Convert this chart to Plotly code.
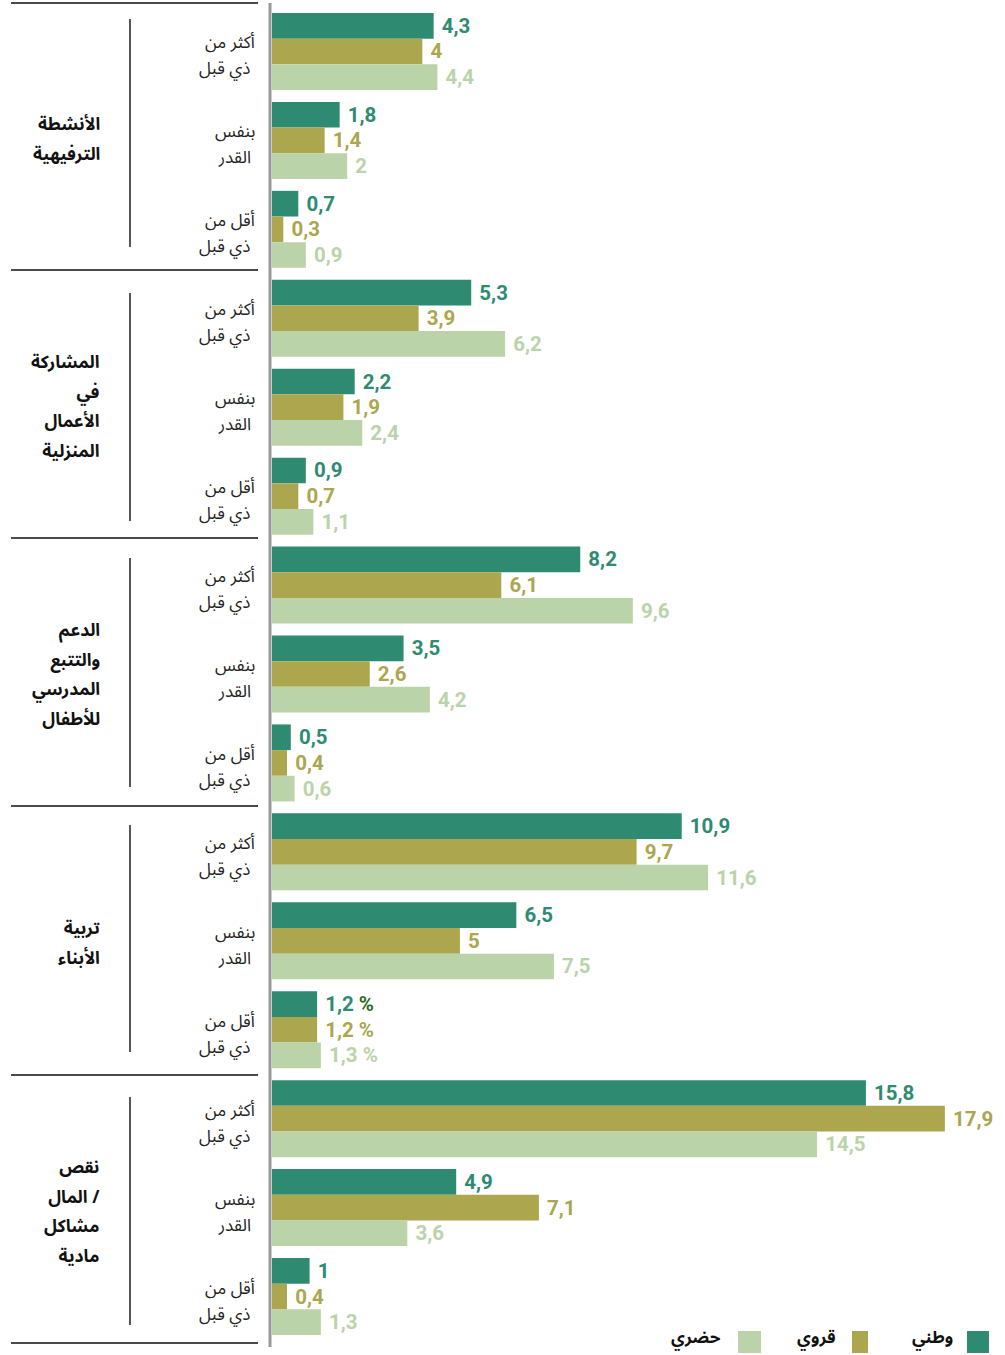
import plotly.graph_objects as go

# ---------------- data ----------------
groups = [
    ["الأنشطة", "الترفيهية"],
    ["المشاركة", "في", "الأعمال", "المنزلية"],
    ["الدعم", "والتتبع", "المدرسي", "للأطفال"],
    ["تربية", "الأبناء"],
    ["نقص", "المال /", "مشاكل", "مادية"],
]
subcats = [
    ["أكثر من", "ذي قبل"],
    ["بنفس", "القدر"],
    ["أقل من", "ذي قبل"],
]
series_names = ["وطني", "قروي", "حضري"]
national = [4.3, 1.8, 0.7, 5.3, 2.2, 0.9, 8.2, 3.5, 0.5, 10.9, 6.5, 1.2, 15.8, 4.9, 1.0]
rural = [4.0, 1.4, 0.3, 3.9, 1.9, 0.7, 6.1, 2.6, 0.4, 9.7, 5.0, 1.2, 17.9, 7.1, 0.4]
urban = [4.4, 2.0, 0.9, 6.2, 2.4, 1.1, 9.6, 4.2, 0.6, 11.6, 7.5, 1.3, 14.5, 3.6, 1.3]
percent_rows = [11]  # row whose labels carry a "%" sign

# ---------------- styling ----------------
colors = ["#2E8B71", "#ACA64F", "#BBD3A9"]
pct_colors = ["#2F6A1E", "#ACA64F", "#BBD3A9"]
W, H = 1005, 1355
ML, MR, MT, MB = 272, 0, 7, 14
PW, PH = W - ML - MR, H - MT - MB
AR_FONT = "Noto Sans Arabic, Noto Naskh Arabic, DejaVu Sans, sans-serif"

rows = [f"{' '.join(g)} | {' '.join(s)}" for g in groups for s in subcats]


def fmt(v):
    return ("%g" % v).replace(".", ",")


def labels(vals, k):
    out = []
    for i, v in enumerate(vals):
        t = "\u00a0" + fmt(v)
        if i in percent_rows:
            t += f" <span style='color:{pct_colors[k]}'>%</span>"
        out.append(t)
    return out


def px_x(p):
    return (p - ML) / PW


def px_y(p):
    return 1 - (p - MT) / PH


def multiline(lines, size, bold=False):
    parts = []
    for ln in lines:
        t = f"<b>{ln}</b>" if bold else ln
        parts.append(f"<span style='font-size:{size}px'>{t}</span>")
    return "<br>".join(parts)


fig = go.Figure()
for k, (name, vals) in enumerate(zip(series_names, [national, rural, urban])):
    fig.add_trace(go.Bar(
        y=rows, x=vals, orientation="h", name=name,
        marker=dict(color=colors[k], line=dict(width=0)),
        text=labels(vals, k), textposition="outside", cliponaxis=False,
        constraintext="none",
        textfont=dict(family="Roboto", size=20.5, color=colors[k], weight="bold"),
        showlegend=False, hoverinfo="skip",
    ))

shapes = []
annotations = []

# y axis line
shapes.append(dict(type="line", xref="paper", yref="paper",
                   x0=px_x(270), x1=px_x(270), y0=px_y(3), y1=px_y(1347),
                   line=dict(color="#999999", width=3)))

# horizontal separators
for p in [3, 270, 538, 806, 1075, 1343]:
    shapes.append(dict(type="line", xref="paper", yref="paper",
                       x0=px_x(11), x1=px_x(258), y0=px_y(p), y1=px_y(p),
                       line=dict(color="#4a4a4a", width=2)))

# vertical brackets per group
for a, b in [(19, 247), (293, 521), (558, 787), (825, 1052), (1097, 1325)]:
    shapes.append(dict(type="line", xref="paper", yref="paper",
                       x0=px_x(130), x1=px_x(130), y0=px_y(a), y1=px_y(b),
                       line=dict(color="#555555", width=2)))

# row labels (base font size sets the line spacing: 1.3 em)
period = PH / len(rows)
for i in range(len(rows)):
    c = MT + (i + 0.5) * period
    l1, l2 = subcats[i % 3]
    annotations.append(dict(xref="paper", yref="paper", x=px_x(257), y=px_y(c + 5),
                            xanchor="right", yanchor="middle", showarrow=False, align="right",
                            text=multiline([l1, l2 + "\u00a0"], 17),
                            font=dict(family=AR_FONT, size=20, color="#222222")))

# group labels
seps = [3, 270, 538, 806, 1075, 1343]
for g, lines in enumerate(groups):
    gc = (seps[g] + seps[g + 1]) / 2 + 3
    annotations.append(dict(xref="paper", yref="paper", x=px_x(102), y=px_y(gc),
                            xanchor="right", yanchor="middle", showarrow=False, align="right",
                            text=multiline(lines, 17.5, bold=True),
                            font=dict(family=AR_FONT, size=22.7, color="#111111")))

# manual RTL legend
legend_items = [(series_names[0], colors[0], 967, 989, 955),
                (series_names[1], colors[1], 852, 868, 838),
                (series_names[2], colors[2], 738, 761, 723)]
for name, col, x0, x1, tx in legend_items:
    shapes.append(dict(type="rect", xref="paper", yref="paper",
                       x0=px_x(x0), x1=px_x(x1), y0=px_y(1331), y1=px_y(1353),
                       fillcolor=col, line=dict(width=0)))
    annotations.append(dict(xref="paper", yref="paper", x=px_x(tx), y=px_y(1338),
                            xanchor="right", yanchor="middle", showarrow=False,
                            text=f"<b>{name}</b>",
                            font=dict(family=AR_FONT, size=17, color="#111111")))

fig.update_layout(
    width=W, height=H,
    margin=dict(l=ML, r=MR, t=MT, b=MB, pad=0),
    paper_bgcolor="white", plot_bgcolor="white",
    barmode="group", bargap=0.134, bargroupgap=0,
    xaxis=dict(range=[0, 19.5], visible=False, fixedrange=True),
    yaxis=dict(range=[len(rows) - 0.5, -0.5], visible=False, type="category",
               categoryorder="array", categoryarray=rows, fixedrange=True),
    shapes=shapes, annotations=annotations,
    showlegend=False,
)

fig.write_html("out.html", config={"displayModeBar": False})
